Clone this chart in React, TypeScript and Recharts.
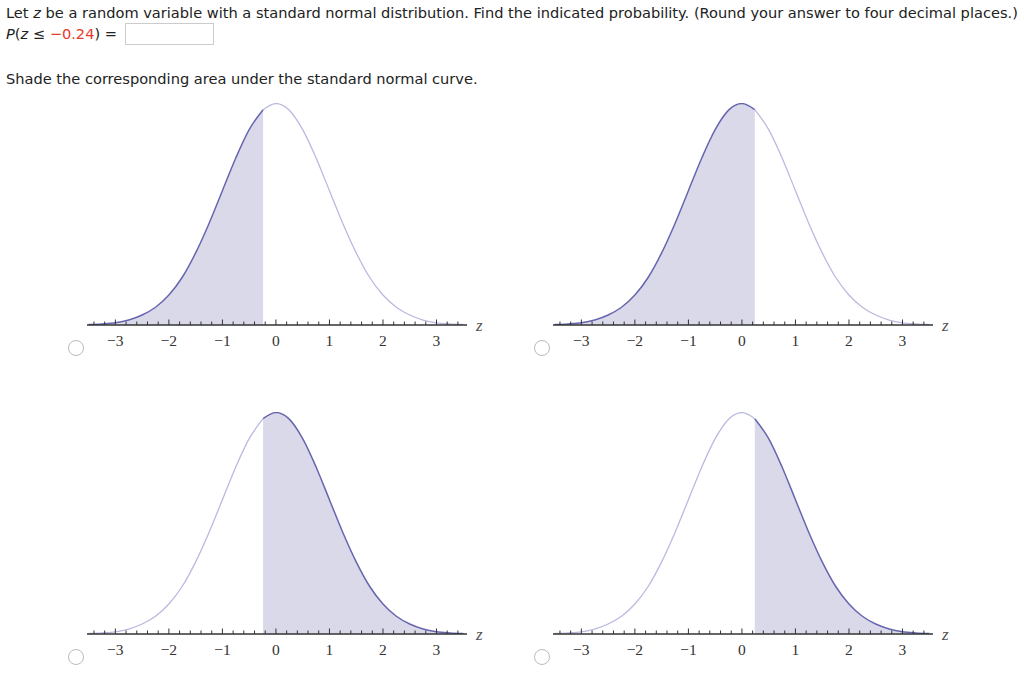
import React from 'react';
import { ComposedChart, Area, Line, XAxis, YAxis } from 'recharts';

// curve heights (standard normal density)
const zPoints = [
  -3.5, -3.25, -3, -2.75, -2.5, -2.25, -2, -1.75, -1.5, -1.25, -1, -0.75, -0.5, -0.24,
  0, 0.24, 0.5, 0.75, 1, 1.25, 1.5, 1.75, 2, 2.25, 2.5, 2.75, 3, 3.25, 3.5,
];
const density = [
  0.001, 0.002, 0.004, 0.009, 0.018, 0.032, 0.054, 0.086, 0.130, 0.183, 0.242, 0.301, 0.352, 0.388,
  0.399, 0.388, 0.352, 0.301, 0.242, 0.183, 0.130, 0.086, 0.054, 0.032, 0.018, 0.009, 0.004, 0.002, 0.001,
];

const axisTicks = [
  -3.4, -3.2, -3, -2.8, -2.6, -2.4, -2.2, -2, -1.8, -1.6, -1.4, -1.2, -1, -0.8, -0.6, -0.4, -0.2,
  0, 0.2, 0.4, 0.6, 0.8, 1, 1.2, 1.4, 1.6, 1.8, 2, 2.2, 2.4, 2.6, 2.8, 3, 3.2, 3.4,
];
const tickLabels = [-3, -2, -1, 0, 1, 2, 3];

// the four answer choices: shading cut and which side is shaded
const panelCuts = [-0.24, 0.24, -0.24, 0.24];
const panelSides = ['left', 'left', 'right', 'right'];

const FILL = '#d9d9ea';
const DARK = '#6666b0';
const LIGHT = '#babae0';
const SERIF = '"Liberation Serif", "DejaVu Serif", serif';

function buildData(cut: number, side: string) {
  return zPoints.map((z, i) => {
    const inShade = side === 'left' ? z <= cut : z >= cut;
    const inRest = side === 'left' ? z >= cut : z <= cut;
    return { z, shade: inShade ? density[i] : null, rest: inRest ? density[i] : null };
  });
}

function AxisTick({ x, y, payload }: any) {
  const v = payload.value;
  const major = tickLabels.some(t => Math.abs(t - v) < 1e-6);
  const label = major ? (v < 0 ? '\u2212' + Math.abs(v) : String(v)) : '';
  return (
    <g>
      <line x1={x} x2={x} y1={y} y2={y - (major ? 5.5 : 3.5)} stroke="#333" strokeWidth={1} />
      {major && (
        <text x={x} y={y + 20.5} textAnchor="middle" fontFamily={SERIF} fontSize={15.5} fill="#333">
          {label}
        </text>
      )}
    </g>
  );
}

function Panel({ cut, side, left, top }: { cut: number; side: string; left: number; top: number }) {
  const data = buildData(cut, side);
  return (
    <div style={{ position: 'absolute', left, top }}>
      <ComposedChart width={420} height={265} data={data}
        margin={{ top: 13, right: 23, bottom: 0, left: 17 }}>
        <XAxis dataKey="z" type="number" domain={[-3.53, 3.57]} allowDataOverflow
          ticks={axisTicks} interval={0} tick={<AxisTick />} tickLine={false}
          tickSize={0} tickMargin={0} height={30}
          axisLine={{ stroke: '#333', strokeWidth: 1.5 }} />
        <YAxis type="number" domain={[0, 0.4]} hide allowDataOverflow />
        <Area type="monotone" dataKey="shade" stroke={DARK} strokeWidth={1.5} fill={FILL}
          fillOpacity={1} baseValue={0} connectNulls={false} dot={false} activeDot={false}
          isAnimationActive={false} />
        <Line type="monotone" dataKey="rest" stroke={LIGHT} strokeWidth={1.3} dot={false}
          activeDot={false} connectNulls={false} isAnimationActive={false} />
      </ComposedChart>
      <span style={{ position: 'absolute', left: 406, top: 226, fontFamily: SERIF, fontStyle: 'italic',
        fontSize: 17, lineHeight: '20px', color: '#555' }}>z</span>
      <div style={{ position: 'absolute', left: -2, top: 250, width: 14, height: 14, borderRadius: '50%',
        border: '1px solid #bbb', background: '#fff' }} />
    </div>
  );
}

const panelPos = [
  { left: 70, top: 90 },
  { left: 536, top: 90 },
  { left: 70, top: 399 },
  { left: 536, top: 399 },
];

export default function App() {
  const text: React.CSSProperties = {
    position: 'absolute', left: 6, fontFamily: '"DejaVu Sans", Verdana, sans-serif', fontSize: 14.6,
    color: '#222', lineHeight: '17px', whiteSpace: 'nowrap',
  };
  return (
    <div style={{ position: 'absolute', left: 0, top: 0, width: 1024, height: 673, background: '#fff' }}>
      <div style={{ ...text, top: 3.5 }}>
        Let <i>z</i> be a random variable with a standard normal distribution. Find the indicated probability. (Round your answer to four decimal places.)
      </div>
      <div style={{ ...text, top: 24.5 }}>
        <i>P</i>(<i>z</i> {'\u2264'} <span style={{ color: '#e53b2c' }}>{'\u2212'}0.24</span>) =
      </div>
      <div style={{ position: 'absolute', left: 125, top: 23, width: 87, height: 20, border: '1px solid #ccc',
        background: '#fff' }} />
      <div style={{ ...text, top: 69.5 }}>
        Shade the corresponding area under the standard normal curve.
      </div>
      {panelPos.map((p, i) => (
        <Panel key={i} cut={panelCuts[i]} side={panelSides[i]} left={p.left} top={p.top} />
      ))}
    </div>
  );
}
